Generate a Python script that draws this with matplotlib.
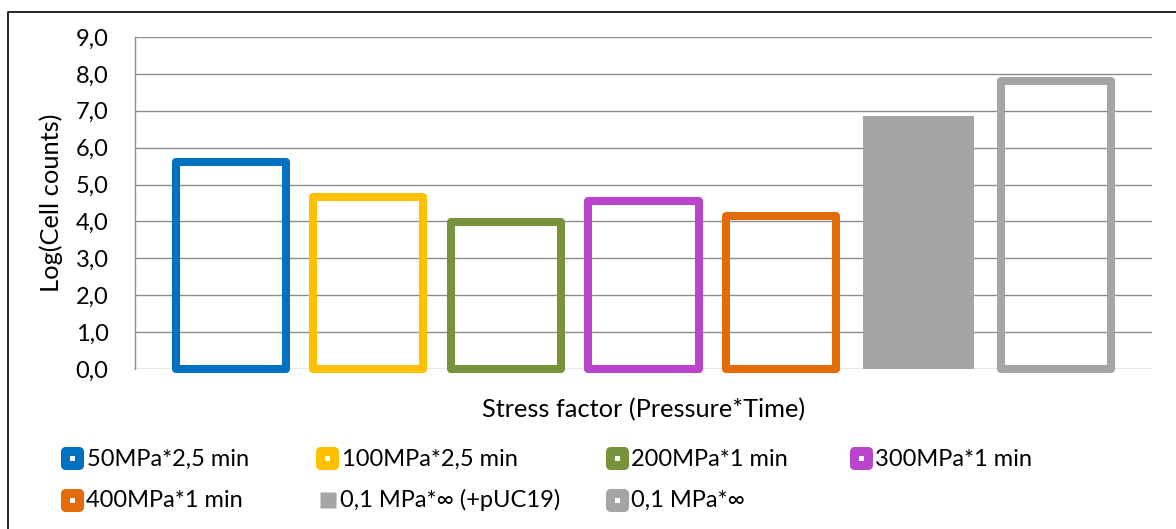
import matplotlib
matplotlib.use("Agg")
import matplotlib.pyplot as plt
from matplotlib.lines import Line2D
from matplotlib.markers import MarkerStyle

plt.rcParams['font.family'] = ['Lato', 'DejaVu Sans']

# Data
categories = ["50MPa*2,5 min", "100MPa*2,5 min", "200MPa*1 min", "300MPa*1 min",
              "400MPa*1 min", "0,1 MPa*\u221e (+pUC19)", "0,1 MPa*\u221e"]
values = [5.61, 4.66, 3.98, 4.55, 4.16, 6.87, 7.81]
colors = ["#0070C0", "#FFC000", "#77933C", "#B845CB", "#E36C09", "#A5A5A5", "#A5A5A5"]
filled = [False, False, False, False, False, True, False]
y_ticks = [0, 1, 2, 3, 4, 5, 6, 7, 8, 9]

FS = 17
FS_TITLE = 18.3
W, H = 1176, 529
fig = plt.figure(figsize=(W / 100, H / 100), dpi=100)
ax = fig.add_axes([135 / W, 1 - 369 / H, (1152 - 135) / W, (369 - 37) / H])

x = list(range(len(categories)))
for xi, v, c, f in zip(x, values, colors, filled):
    if f:
        ax.bar(xi, v, width=0.81, color=c, edgecolor="none", zorder=2)
    else:
        ax.bar(xi, v, width=0.80, fill=False, edgecolor=c, linewidth=5.8,
               joinstyle="round", zorder=3, clip_on=False)

ax.set_xlim(-0.696, len(categories) - 1 + 0.696)
ax.set_ylim(0, 9)
ax.set_yticks(y_ticks)
ax.set_yticklabels([f"{t:.1f}".replace(".", ",") for t in y_ticks], fontsize=FS)
ax.set_xticks([])
ax.tick_params(axis="y", length=0, pad=19)
ax.grid(axis="y", color="#8c8c8c", linewidth=1.0)
ax.set_axisbelow(True)
for s in ["top", "right", "bottom"]:
    ax.spines[s].set_visible(False)
ax.spines["left"].set_color("#8c8c8c")
ax.spines["left"].set_linewidth(1.0)

ax.set_ylabel("Log(Cell counts)", fontsize=FS_TITLE, va="center")
ax.yaxis.set_label_coords((51 - 135) / (1152 - 135), 0.5)
ax.set_xlabel("Stress factor (Pressure*Time)", fontsize=FS_TITLE, va="center")
ax.xaxis.set_label_coords(0.5, -(410 - 369) / (369 - 37))

# Legend, laid out in two rows like the chart's own legend
marker_x = [71.7, 326.7, 617.3, 861.2, 71.7, 327.5, 617.3]
text_x = [86.7, 341.7, 630.7, 875.0, 86.0, 340.0, 630.7]
row_mark_y = [458.3, 458.3, 458.3, 458.3, 500.0, 500.0, 500.0]
row_text_y = [465.7, 465.7, 465.7, 465.7, 506.7, 506.7, 506.7]
rounded_sq = MarkerStyle("s", joinstyle="round")
for lab, c, f, mx, tx, my, ty in zip(categories, colors, filled,
                                      marker_x, text_x, row_mark_y, row_text_y):
    if f:
        fig.add_artist(Line2D([mx / W], [1 - my / H], marker="s", markersize=11,
                              markerfacecolor=c, markeredgecolor="none",
                              linestyle="none", transform=fig.transFigure))
    else:
        fig.add_artist(Line2D([mx / W], [1 - my / H], marker=rounded_sq, markersize=10.5,
                              markerfacecolor="white", markeredgecolor=c,
                              markeredgewidth=6.5, linestyle="none",
                              transform=fig.transFigure))
    fig.text(tx / W, 1 - ty / H, lab, fontsize=FS, ha="left", va="baseline")

# Chart frame
fig.add_artist(Line2D([7.5 / W, 7.5 / W, 1.01], [-0.01, 1 - 11.5 / H, 1 - 11.5 / H],
                      color="black", linewidth=1.2, transform=fig.transFigure))

fig.savefig("out.png", dpi=100, facecolor="white")
